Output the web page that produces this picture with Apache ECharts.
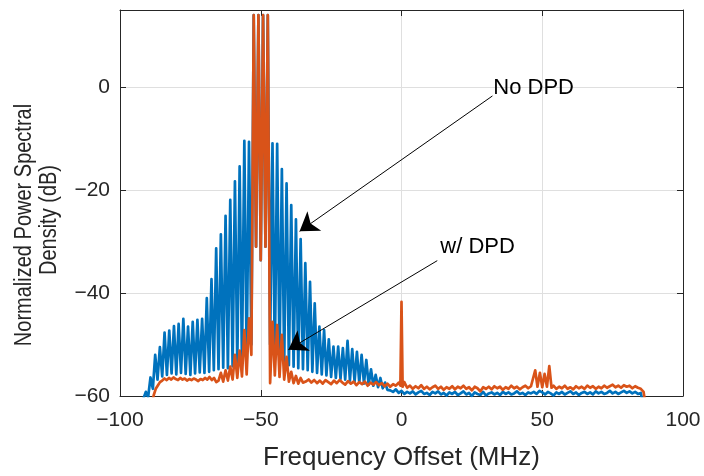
<!DOCTYPE html>
<html>
<head>
<meta charset="utf-8">
<script src="https://cdn.jsdelivr.net/npm/echarts@6/dist/echarts.min.js"></script>
<style>
html,body{margin:0;padding:0;background:#fff;}
#c{width:704px;height:476px;}
</style>
</head>
<body>
<div id="c"></div>
<script>
// ---- data (frequency offset in MHz, level in dB) ----
const xTicks = [-100, -50, 0, 50, 100];
const yTicks = [-60, -40, -20, 0];

// "No DPD": comb of tones/IMD products around -50 MHz
const blueComb = [
[-92.0,-61],[-90.83,-59.2],[-90.0,-60.2],[-89.17,-56.4],[-88.33,-58.6],[-87.5,-52.0],[-86.67,-56.8],[-85.83,-50.5],[-85.0,-56.2],[-84.17,-47.7],
[-83.33,-55.9],[-82.5,-47.3],[-81.67,-55.6],[-80.83,-46.4],[-80.0,-55.8],[-79.17,-46.0],[-78.33,-55.5],[-77.5,-45.0],[-76.67,-55.7],[-75.83,-46.5],
[-75.0,-55.9],[-74.17,-45.6],[-73.33,-55.6],[-72.5,-45.2],[-71.67,-55.4],[-70.83,-45.0],[-70.0,-55.5],[-69.17,-41.0],[-68.33,-55.3],[-67.5,-37.3],
[-66.67,-55.0],[-65.83,-31.3],[-65.0,-54.8],[-64.17,-28.6],[-63.33,-54.5],[-62.5,-25.0],[-61.67,-54.6],[-60.83,-21.9],[-60.0,-54.2],[-59.17,-18.3],
[-58.33,-54.0],[-57.5,-15.4],[-56.67,-53.6],[-55.83,-10.4],[-55.0,-53.2],[-54.17,-10.6],[-53.33,-50.0],[-52.5,14.0],[-51.67,-31.0],[-50.83,14.0],
[-50.0,-33.6],[-49.17,14.0],[-48.33,-31.0],[-47.5,14.0],[-46.67,-50.0],[-45.83,-10.9],[-45.0,-53.0],[-44.17,-11.0],[-43.33,-53.4],[-42.5,-15.9],
[-41.67,-53.8],[-40.83,-18.7],[-40.0,-54.0],[-39.17,-22.9],[-38.33,-54.3],[-37.5,-25.7],[-36.67,-54.6],[-35.83,-29.5],[-35.0,-54.8],[-34.17,-34.2],
[-33.33,-55.0],[-32.5,-37.8],[-31.67,-55.3],[-30.83,-42.0],[-30.0,-55.5],[-29.17,-46.5],[-28.33,-55.8],[-27.5,-47.2],[-26.67,-56.0],[-25.83,-49.0],
[-25.0,-56.3],[-24.17,-50.4],[-23.33,-56.5],[-22.5,-50.4],[-21.67,-56.7],[-20.83,-50.7],[-20.0,-56.8],[-19.17,-49.3],[-18.33,-57.0],[-17.5,-50.9],
[-16.67,-57.2],[-15.83,-51.4],[-15.0,-57.4],[-14.17,-52.0],[-13.33,-57.6],[-12.5,-53.0],[-11.67,-57.8],[-10.83,-54.8],[-10.0,-58.0],[-9.17,-55.9],
[-8.33,-58.3],[-7.5,-56.5],[-6.67,-58.5],[-5.83,-57.4],[-5.0,-58.8]
];
const blueFloorFreq = [-4,-3,-2,-1,0,1,2,3,4,5,6,7,8,9,10,11,12,13,14,15,16,17,18,19,20,21,22,23,24,25,26,27,28,29,30,31,32,33,34,35,36,37,38,39,40,41,42,43,44,45,46,47,48,49,50,51,52,53,54,55,56,57,58,59,60,61,62,63,64,65,66,67,68,69,70,71,72,73,74,75,76,77,78,79,80,81,82,83,84,85,85.6];
const blueFloorDb = [-58.9,-59.2,-58.7,-59.4,-59.0,-59.6,-59.2,-59.5,-59.1,-59.7,-59.3,-59.0,-59.6,-59.4,-59.8,-59.2,-59.5,-59.1,-59.7,-59.4,-59.9,-59.3,-59.6,-59.2,-59.8,-59.5,-59.1,-59.7,-59.4,-60.0,-59.3,-59.6,-59.8,-59.2,-59.9,-59.5,-59.3,-59.7,-59.4,-59.8,-59.2,-59.6,-59.3,-59.7,-59.5,-59.1,-59.6,-59.4,-59.8,-59.3,-59.5,-59.2,-59.6,-59.0,-59.3,-59.7,-59.2,-59.5,-59.9,-59.3,-59.6,-59.2,-59.7,-59.4,-59.1,-59.6,-59.3,-59.8,-59.4,-59.2,-59.6,-59.3,-59.7,-59.1,-59.5,-59.2,-59.6,-59.4,-59.0,-59.5,-59.2,-59.6,-59.3,-59.0,-59.4,-59.1,-59.5,-59.2,-59.6,-59.4,-61];

// "w/ DPD"
const orangeLeft = [
[-88.5,-61],[-88.0,-59.8],[-87.3,-58.6],[-86.5,-57.9],[-85.8,-57.3],[-85.0,-57.0],[-84.2,-56.6],[-83.4,-56.9],[-82.6,-56.5],[-81.8,-56.8],
[-81.0,-56.4],[-80.2,-56.7],[-79.4,-56.9],[-78.6,-56.5],[-77.8,-56.8],[-77.0,-56.6],[-76.2,-57.0],[-75.4,-56.7],[-74.6,-56.9],[-73.8,-56.6],
[-73.0,-56.8],[-72.2,-57.1],[-71.4,-56.7],[-70.6,-56.9],[-69.8,-56.5],[-69.0,-56.8],[-68.2,-56.3],[-67.4,-56.9],[-66.6,-56.5],[-65.8,-57.3]
];
const orangeComb = [
[-65.0,-57.0],[-64.17,-55.5],[-63.33,-57.2],[-62.5,-55.0],[-61.67,-57.0],[-60.83,-54.3],[-60.0,-56.8],[-59.17,-52.0],[-58.33,-56.5],[-57.5,-51.2],
[-56.67,-56.2],[-55.83,-47.2],[-55.0,-55.8],[-54.17,-44.9],[-53.33,-52.0],[-52.5,14.0],[-51.67,-31.0],[-50.83,14.0],[-50.0,-33.6],[-49.17,14.0],
[-48.33,-31.0],[-47.5,14.0],[-46.67,-57.5],[-45.83,-45.6],[-45.0,-56.0],[-44.17,-46.2],[-43.33,-56.3],[-42.5,-48.1],[-41.67,-56.8],[-40.83,-52.4],
[-40.0,-57.2],[-39.17,-55.3],[-38.33,-57.5],[-37.5,-56.1],[-36.67,-57.6],[-35.83,-56.5],[-35.0,-57.4]
];
const orangeFloorFreq = [-34,-33,-32,-31,-30,-29,-28,-27,-26,-25,-24,-23,-22,-21,-20,-19,-18,-17,-16,-15,-14,-13,-12,-11,-10,-9,-8,-7,-6,-5,-4,-3,-2,-1,-0.4,0,0.4,1,2,3,4,5,6,7,8,9,10,11,12,13,14,15,16,17,18,19,20,21,22,23,24,25,26,27,28,29,30,31,32,33,34,35,36,37,38,39,40,41,42,43,44,45,46,46.7,47.5,48.3,49.17,50.0,50.83,51.67,52.5,53.3,54,55,56,57,58,59,60,61,62,63,64,65,66,67,68,69,70,71,72,73,74,75,76,77,78,79,80,81,82,83,84,85,86,86.5];
const orangeFloorDb = [-57.2,-56.8,-57.4,-56.9,-57.5,-57.0,-57.6,-56.9,-57.3,-57.7,-57.0,-57.5,-56.9,-57.4,-57.8,-57.1,-57.6,-57.2,-57.9,-57.3,-57.7,-57.2,-58.0,-57.4,-57.8,-57.3,-57.9,-57.5,-58.1,-57.6,-58.2,-57.7,-58.0,-57.4,-58.0,-41.7,-58.2,-57.3,-58.4,-58.0,-58.6,-58.1,-58.5,-57.9,-58.6,-58.2,-58.7,-58.3,-58.0,-58.6,-58.2,-58.8,-58.3,-58.6,-58.1,-58.7,-58.2,-58.5,-58.0,-58.6,-58.3,-58.9,-58.2,-58.5,-59.1,-58.3,-58.6,-58.2,-58.7,-58.1,-58.5,-58.2,-58.8,-58.3,-58.6,-58.0,-58.5,-58.2,-58.7,-58.3,-58.0,-58.5,-58.1,-58.3,-55.0,-58.2,-55.5,-58.3,-55.7,-58.2,-54.2,-58.4,-58.0,-58.6,-58.2,-58.5,-58.0,-58.6,-58.3,-58.7,-58.1,-58.5,-58.2,-58.6,-58.0,-58.4,-58.1,-58.6,-58.2,-58.5,-58.0,-58.4,-58.1,-57.8,-58.3,-58.0,-58.4,-57.9,-58.2,-58.0,-58.5,-58.1,-58.4,-58.6,-59.2,-61];

// annotation anchors (data coords)
const noDpdText = [32.6, -0.1];
const noDpdArrow = [[32.3, -1.7], [-36.2, -28.0]];
const wDpdText = [13.8, -31.0];
const wDpdArrow = [[12.7, -33.7], [-40.2, -51.0]];

// ---- build ----
const zip = (xs, ys) => xs.map((x, i) => [x, ys[i]]);
const blueData = blueComb.concat(zip(blueFloorFreq, blueFloorDb));
const orangeData = orangeLeft.concat(orangeComb, zip(orangeFloorFreq, orangeFloorDb));

const FONT = '"Liberation Sans", Arial, Helvetica, sans-serif';
const TXT = '#262626';
const fmt = v => (v < 0 ? '\u2212' + (-v) : String(v));

const chart = echarts.init(document.getElementById('c'), null, {renderer: 'canvas'});
const baseAxis = {
  axisLine: {show: true, onZero: false, lineStyle: {color: TXT, width: 1}},
  axisTick: {show: true, inside: true, length: 6, lineStyle: {color: TXT}},
};
chart.setOption({
  animation: false,
  backgroundColor: '#fff',
  grid: {left: 120, right: 21, top: 10, bottom: 80, containLabel: false},
  graphic: [
    {type: 'text', x: 25, y: 225, rotation: Math.PI / 2, scaleY: 1.15, silent: true,
     style: {text: 'Normalized Power Spectral', fill: TXT, font: '20px ' + FONT, align: 'center', verticalAlign: 'middle'}},
    {type: 'text', x: 50, y: 220, rotation: Math.PI / 2, scaleY: 1.15, silent: true,
     style: {text: 'Density (dB)', fill: TXT, font: '20px ' + FONT, align: 'center', verticalAlign: 'middle'}}
  ],
  xAxis: [
    Object.assign({}, baseAxis, {
      type: 'value', min: -100, max: 100, interval: 50, position: 'bottom',
      axisLabel: {color: TXT, fontSize: 21, fontFamily: FONT, margin: 14,
        formatter: v => xTicks.includes(v) ? fmt(v) : ''},
      splitLine: {show: true, lineStyle: {color: '#dfdfdf', width: 1}},
      name: 'Frequency Offset (MHz)', nameLocation: 'middle', nameGap: 49,
      nameTextStyle: {color: TXT, fontSize: 26, fontFamily: FONT}
    }),
    Object.assign({}, baseAxis, {
      type: 'value', min: -100, max: 100, interval: 50, position: 'top',
      axisLabel: {show: false}, splitLine: {show: false}
    })
  ],
  yAxis: [
    Object.assign({}, baseAxis, {
      type: 'value', min: -60, max: 15, interval: 20, position: 'left',
      axisLabel: {color: TXT, fontSize: 21, fontFamily: FONT, margin: 10, showMaxLabel: false,
        formatter: v => yTicks.includes(v) ? fmt(v) : ''},
      splitLine: {show: true, lineStyle: {color: '#dfdfdf', width: 1}}
    }),
    Object.assign({}, baseAxis, {
      type: 'value', min: -60, max: 15, interval: 20, position: 'right',
      axisLabel: {show: false}, splitLine: {show: false}
    })
  ],
  series: [
    {
      name: 'No DPD', type: 'line', data: blueData, showSymbol: false, symbol: 'none',
      lineStyle: {color: '#0072BD', width: 2.7, join: 'round'}, silent: true
    },
    {
      name: 'w/ DPD', type: 'line', data: orangeData, showSymbol: false, symbol: 'none',
      lineStyle: {color: '#D95319', width: 2.7, join: 'round'}, silent: true
    },
    {
      name: 'annotations', type: 'line', data: [], silent: true,
      markLine: {
        silent: true, symbol: ['none', 'arrow'], symbolSize: 18,
        lineStyle: {color: '#000', width: 1, type: 'solid'},
        label: {show: false},
        data: [
          [{coord: noDpdArrow[0]}, {coord: noDpdArrow[1]}],
          [{coord: wDpdArrow[0]}, {coord: wDpdArrow[1]}]
        ]
      },
      markPoint: {
        silent: true, symbol: 'circle', symbolSize: 0,
        label: {show: true, position: 'right', distance: 0, color: '#000', fontSize: 22, fontFamily: FONT,
          formatter: p => p.name},
        data: [
          {name: 'No DPD', coord: noDpdText},
          {name: 'w/ DPD', coord: wDpdText}
        ]
      }
    }
  ]
});
</script>
</body>
</html>
